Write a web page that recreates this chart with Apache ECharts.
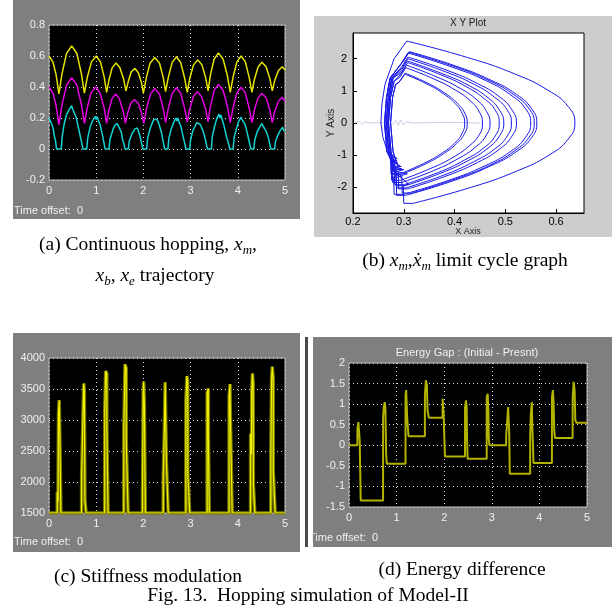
<!DOCTYPE html>
<html>
<head>
<meta charset="utf-8">
<script src="https://cdn.jsdelivr.net/npm/echarts@6.0.0/dist/echarts.min.js"></script>
<style>
  html, body { margin: 0; padding: 0; background: #fff; }
  #main { width: 616px; height: 615px; }
</style>
</head>
<body>
<div id="main"></div>
<script>
// (a) continuous hopping: [time (s), position]
var xmTrace = [
  [0,0.60],[0.085,0.56],[0.15,0.48],[0.21,0.355],
  [0.275,0.485],[0.37,0.615],[0.48,0.665],[0.59,0.616],[0.685,0.488],[0.75,0.36],
  [0.81,0.461],[0.90,0.562],[1.0,0.60],[1.09,0.562],[1.17,0.464],[1.22,0.365],
  [1.27,0.445],[1.34,0.525],[1.42,0.555],[1.50,0.526],[1.58,0.451],[1.63,0.375],
  [1.68,0.436],[1.74,0.497],[1.82,0.52],[1.89,0.494],[1.96,0.427],[2.00,0.36],
  [2.06,0.457],[2.14,0.553],[2.24,0.59],[2.34,0.555],[2.42,0.462],[2.47,0.37],
  [2.53,0.465],[2.61,0.559],[2.70,0.595],[2.79,0.558],[2.87,0.462],[2.93,0.365],
  [2.98,0.453],[3.06,0.541],[3.15,0.575],[3.24,0.543],[3.32,0.459],[3.37,0.375],
  [3.42,0.478],[3.50,0.581],[3.59,0.62],[3.69,0.579],[3.78,0.472],[3.84,0.365],
  [3.90,0.464],[3.98,0.562],[4.07,0.60],[4.16,0.562],[4.24,0.464],[4.30,0.365],
  [4.35,0.447],[4.43,0.529],[4.51,0.56],[4.60,0.530],[4.68,0.453],[4.73,0.375],
  [4.78,0.44],[4.86,0.505],[4.94,0.53],[5.0,0.51]
];
var xbTrace = [
  [0,0.40],[0.085,0.36],[0.15,0.28],[0.21,0.155],
  [0.275,0.283],[0.37,0.411],[0.48,0.46],[0.59,0.413],[0.685,0.289],[0.75,0.165],
  [0.81,0.264],[0.89,0.362],[0.99,0.40],[1.08,0.362],[1.17,0.264],[1.22,0.165],
  [1.265,0.245],[1.335,0.325],[1.41,0.355],[1.49,0.325],[1.57,0.245],[1.62,0.165],
  [1.665,0.23],[1.735,0.295],[1.81,0.32],[1.89,0.295],[1.96,0.23],[2.01,0.165],
  [2.065,0.26],[2.15,0.354],[2.24,0.39],[2.34,0.355],[2.42,0.262],[2.47,0.17],
  [2.53,0.265],[2.61,0.359],[2.70,0.395],[2.79,0.36],[2.87,0.267],[2.93,0.175],
  [2.98,0.257],[3.06,0.339],[3.14,0.37],[3.23,0.339],[3.32,0.257],[3.37,0.175],
  [3.42,0.277],[3.50,0.378],[3.59,0.417],[3.69,0.377],[3.78,0.274],[3.84,0.17],
  [3.90,0.266],[3.98,0.362],[4.07,0.398],[4.16,0.362],[4.24,0.266],[4.30,0.17],
  [4.35,0.25],[4.43,0.33],[4.51,0.36],[4.60,0.33],[4.68,0.25],[4.73,0.17],
  [4.78,0.239],[4.86,0.308],[4.94,0.334],[5.0,0.305]
];
var xeTrace = [
  [0,0.2],[0.03,0.19],[0.06,0.16],[0.09,0.13],[0.11,0.09],[0.14,0.05],[0.16,0],
  [0.26,0],[0.28,0.08],[0.30,0.09],[0.32,0.16],[0.34,0.17],[0.36,0.21],[0.38,0.22],[0.40,0.24],[0.42,0.23],
  [0.44,0.26],[0.46,0.25],[0.48,0.28],[0.50,0.26],[0.52,0.27],[0.54,0.23],[0.57,0.21],[0.60,0.17],
  [0.62,0.16],[0.65,0.10],[0.67,0.09],[0.70,0.03],[0.72,0],
  [0.80,0],[0.82,0.07],[0.84,0.08],[0.87,0.14],[0.89,0.15],[0.92,0.18],[0.95,0.19],[0.98,0.21],[1.00,0.19],
  [1.02,0.21],[1.05,0.18],[1.08,0.16],[1.11,0.12],[1.14,0.08],[1.17,0.03],[1.19,0],
  [1.27,0],[1.29,0.06],[1.31,0.07],[1.34,0.11],[1.36,0.13],[1.39,0.15],[1.42,0.14],[1.44,0.165],[1.47,0.15],
  [1.50,0.13],[1.53,0.11],[1.56,0.06],[1.59,0.03],[1.61,0],
  [1.68,0],[1.70,0.05],[1.73,0.06],[1.76,0.10],[1.79,0.11],[1.82,0.13],[1.85,0.12],[1.87,0.135],[1.90,0.11],
  [1.93,0.08],[1.96,0.04],[1.99,0],
  [2.07,0],[2.09,0.07],[2.11,0.08],[2.14,0.13],[2.16,0.14],[2.19,0.17],[2.22,0.19],[2.24,0.18],[2.26,0.20],
  [2.29,0.19],[2.32,0.17],[2.35,0.14],[2.38,0.11],[2.41,0.06],[2.43,0.03],[2.45,0],
  [2.52,0],[2.54,0.07],[2.56,0.08],[2.59,0.13],[2.61,0.14],[2.64,0.17],[2.67,0.18],[2.69,0.20],[2.71,0.18],
  [2.73,0.20],[2.76,0.17],[2.79,0.15],[2.82,0.11],[2.85,0.07],[2.88,0.03],[2.90,0],
  [2.98,0],[3.00,0.06],[3.02,0.07],[3.05,0.12],[3.07,0.13],[3.10,0.15],[3.13,0.17],[3.15,0.16],[3.17,0.18],
  [3.20,0.16],[3.23,0.14],[3.26,0.12],[3.29,0.09],[3.32,0.05],[3.34,0.02],[3.36,0],
  [3.44,0],[3.46,0.08],[3.48,0.09],[3.51,0.15],[3.53,0.16],[3.56,0.20],[3.58,0.21],[3.60,0.225],[3.62,0.20],
  [3.64,0.22],[3.67,0.19],[3.70,0.16],[3.73,0.12],[3.76,0.08],[3.80,0.04],[3.83,0],
  [3.90,0],[3.92,0.07],[3.94,0.08],[3.97,0.13],[3.99,0.14],[4.02,0.18],[4.05,0.19],[4.07,0.205],[4.09,0.19],
  [4.12,0.19],[4.15,0.16],[4.18,0.13],[4.21,0.09],[4.24,0.05],[4.26,0.02],[4.28,0],
  [4.34,0],[4.36,0.06],[4.38,0.07],[4.41,0.11],[4.43,0.12],[4.46,0.14],[4.49,0.15],[4.51,0.165],[4.53,0.15],
  [4.56,0.15],[4.59,0.12],[4.62,0.10],[4.65,0.07],[4.68,0.03],[4.70,0],
  [4.78,0],[4.80,0.05],[4.82,0.06],[4.85,0.09],[4.87,0.10],[4.90,0.12],[4.93,0.13],[4.95,0.14],[4.97,0.12],[5.0,0.115]
];
var timeTicks = [0, 1, 2, 3, 4, 5];
var posTicks = [-0.2, 0, 0.2, 0.4, 0.6, 0.8];

// (b) limit cycle: [x_m, dx_m]; one flight arc per hop, stance segments join them
var cycleFlights = [
  [[.306,2.55],[.425,2.04],[.518,1.53],[.584,1.02],[.624,0.51],[.637,0],[.624,-0.50],[.586,-1.00],[.522,-1.50],[.433,-2.00],[.318,-2.50]],
  [[.308,2.05],[.385,1.64],[.445,1.23],[.488,0.82],[.513,0.41],[.522,0],[.513,-0.41],[.488,-0.82],[.445,-1.23],[.385,-1.64],[.308,-2.05]],
  [[.305,1.80],[.364,1.44],[.411,1.08],[.444,0.72],[.463,0.36],[.470,0],[.463,-0.37],[.442,-0.74],[.407,-1.11],[.359,-1.48],[.296,-1.85]],
  [[.311,2.22],[.401,1.78],[.472,1.33],[.522,0.89],[.552,0.44],[.562,0],[.552,-0.45],[.521,-0.90],[.469,-1.35],[.397,-1.80],[.304,-2.25]],
  [[.308,2.00],[.381,1.60],[.439,1.20],[.479,0.80],[.504,0.40],[.512,0],[.504,-0.40],[.479,-0.81],[.437,-1.21],[.379,-1.62],[.304,-2.02]],
  [[.304,1.72],[.358,1.38],[.401,1.03],[.431,0.69],[.449,0.34],[.455,0],[.449,-0.36],[.429,-0.71],[.397,-1.07],[.352,-1.42],[.294,-1.78]],
  [[.310,2.20],[.399,1.76],[.468,1.32],[.517,0.88],[.547,0.44],[.557,0],[.547,-0.44],[.518,-0.87],[.470,-1.31],[.402,-1.74],[.315,-2.18]],
  [[.307,1.93],[.375,1.54],[.429,1.16],[.467,0.77],[.489,0.39],[.497,0],[.489,-0.39],[.466,-0.78],[.427,-1.17],[.373,-1.56],[.303,-1.95]],
  [[.303,1.55],[.347,1.24],[.381,0.93],[.405,0.62],[.420,0.31],[.425,0],[.420,-0.32],[.404,-0.64],[.378,-0.96],[.342,-1.28],[.295,-1.60]],
  [[.308,2.18],[.395,1.74],[.463,1.31],[.511,0.87],[.540,0.44],[.550,0],[.540,-0.44],[.510,-0.89],[.460,-1.33],[.389,-1.78],[.299,-2.22]],
  [[.308,1.88],[.373,1.50],[.423,1.13],[.459,0.75],[.481,0.38],[.488,0],[.481,-0.38],[.458,-0.77],[.420,-1.15],[.368,-1.54],[.300,-1.92]],
  [[.302,1.52],[.345,1.22],[.378,0.91],[.401,0.61],[.415,0.30],[.420,0],[.415,-0.32],[.400,-0.63],[.374,-0.95],[.339,-1.26],[.293,-1.58]]
];
var cycleStance = [
  [[.318,-2.50],[.300,-2.50],[.299,-1.95],[.310,-1.90],[.279,-1.50],[.270,-0.90],[.265,0],[.269,0.80],[.276,1.40],[.296,1.75],[.308,2.05]],
  [[.308,-2.05],[.290,-2.05],[.289,-1.50],[.300,-1.45],[.284,-1.45],[.275,-0.90],[.270,0],[.274,0.80],[.281,1.30],[.293,1.50],[.305,1.80]],
  [[.296,-1.85],[.278,-1.85],[.277,-1.30],[.288,-1.25],[.276,-1.20],[.267,-0.90],[.262,0],[.266,0.80],[.273,1.40],[.299,1.92],[.311,2.22]],
  [[.304,-2.25],[.286,-2.25],[.285,-1.70],[.296,-1.65],[.280,-1.50],[.271,-0.90],[.266,0],[.270,0.80],[.277,1.40],[.296,1.70],[.308,2.00]],
  [[.304,-2.02],[.286,-2.02],[.285,-1.47],[.296,-1.42],[.284,-1.40],[.275,-0.90],[.270,0],[.274,0.80],[.281,1.30],[.292,1.42],[.304,1.72]],
  [[.294,-1.78],[.276,-1.78],[.275,-1.23],[.286,-1.18],[.276,-1.15],[.267,-0.90],[.262,0],[.266,0.80],[.273,1.40],[.298,1.90],[.310,2.20]],
  [[.315,-2.18],[.297,-2.18],[.296,-1.63],[.307,-1.58],[.282,-1.50],[.273,-0.90],[.268,0],[.272,0.80],[.279,1.40],[.295,1.63],[.307,1.93]],
  [[.303,-1.95],[.285,-1.95],[.284,-1.40],[.295,-1.35],[.288,-1.35],[.279,-0.90],[.274,0],[.278,0.80],[.284,1.20],[.291,1.28],[.303,1.55]],
  [[.295,-1.60],[.277,-1.60],[.276,-1.15],[.287,-1.10],[.277,-1.05],[.268,-0.80],[.263,0],[.267,0.80],[.274,1.40],[.296,1.88],[.308,2.18]],
  [[.299,-2.22],[.281,-2.22],[.280,-1.67],[.291,-1.62],[.282,-1.50],[.273,-0.90],[.268,0],[.272,0.80],[.279,1.40],[.296,1.58],[.308,1.88]],
  [[.300,-1.92],[.282,-1.92],[.281,-1.37],[.292,-1.32],[.288,-1.30],[.279,-0.90],[.274,0],[.278,0.80],[.284,1.20],[.290,1.25],[.302,1.52]],
  [[.293,-1.58],[.275,-1.58],[.274,-1.10],[.282,-1.05],[.268,-0.90],[.259,-0.45],[.255,0],[.257,0.60],[.263,1.20],[.281,2.00],[.306,2.55]]
];
var cycleStart = [[.205,0],[.212,.06],[.218,-.05],[.224,.04],[.232,0],[.26,0.01],[.278,-.04],[.284,.09],[.289,-.08],
  [.294,.1],[.299,-.06],[.305,.04],[.32,0],[.38,.02],[.45,0]];
var cycleXTicks = [0.2, 0.3, 0.4, 0.5, 0.6];
var cycleYTicks = [-2, -1, 0, 1, 2];

// (c) stiffness: [time (s), k]
var stiffTrace = [
  [0,1500],[0.175,1500],[0.176,1840],[0.19,1840],[0.191,1680],[0.20,1680],[0.201,3090],[0.215,3090],[0.216,3320],[0.228,3320],[0.229,2790],[0.25,2790],[0.251,1500],
  [0.69,1500],[0.691,2070],[0.72,2070],[0.721,3120],[0.735,3120],[0.736,3590],[0.748,3480],[0.76,3480],[0.761,1710],[0.785,1710],[0.786,1500],
  [1.18,1500],[1.181,3160],[1.20,3160],[1.201,3790],[1.225,3750],[1.226,2840],[1.25,2840],[1.251,1500],
  [1.585,1500],[1.586,2880],[1.61,2880],[1.611,3900],[1.635,3840],[1.636,2680],[1.675,2680],[1.676,1500],
  [1.98,1500],[1.981,1800],[1.995,1800],[1.996,3440],[2.005,3620],[2.02,3270],[2.04,3270],[2.041,1500],
  [2.42,1500],[2.421,2070],[2.445,2070],[2.446,2940],[2.46,2940],[2.461,3610],[2.485,3590],[2.486,2350],[2.525,2350],[2.526,1500],
  [2.90,1500],[2.901,3320],[2.92,3320],[2.921,3710],[2.94,3620],[2.941,2130],[2.98,2130],[2.981,1500],
  [3.35,1500],[3.351,3430],[3.375,3510],[3.376,2800],[3.395,2800],[3.396,1500],
  [3.815,1500],[3.816,3390],[3.835,3580],[3.84,3200],[3.88,3200],[3.881,1500],
  [4.27,1500],[4.271,2780],[4.29,2450],[4.295,3460],[4.31,3750],[4.325,3610],[4.33,1960],[4.36,1960],[4.361,1500],
  [4.70,1500],[4.701,2470],[4.715,2470],[4.716,3660],[4.73,3860],[4.75,3680],[4.751,2190],[4.79,2190],[4.791,1500],
  [5,1500]
];
var stiffTicks = [1500, 2000, 2500, 3000, 3500, 4000];

// (d) energy gap: [time (s), initial - present]
var energyTrace = [
  [0,0],[0.176,0],[0.177,0.40],[0.197,0.565],[0.211,0.60],[0.225,0.12],[0.245,0.12],[0.246,-1.34],
  [0.716,-1.34],[0.717,0.69],[0.730,0.93],[0.751,1.05],[0.765,0.89],[0.780,-0.2],[0.794,-0.45],
  [1.187,-0.45],[1.188,1.21],[1.201,1.34],[1.222,0.67],[1.250,0.22],
  [1.594,0.22],[1.595,1.21],[1.615,1.58],[1.636,1.46],[1.650,0.85],[1.678,0.67],
  [1.966,0.67],[1.967,1.13],[1.987,0.77],[2.016,-0.27],
  [2.437,-0.27],[2.438,0.93],[2.458,1.09],[2.472,0.93],[2.479,0.2],[2.493,-0.33],
  [2.893,-0.33],[2.894,1.17],[2.914,1.25],[2.928,0.85],[2.935,0.2],[2.949,0],
  [3.301,0],[3.302,0.22],[3.329,0.25],[3.343,0.93],[3.364,0.36],[3.378,-0.69],
  [3.806,-0.69],[3.807,0.22],[3.820,0.77],[3.841,1.05],[3.855,0.32],[3.876,-0.43],
  [4.263,-0.43],[4.264,1.17],[4.284,1.34],[4.298,1.05],[4.312,0.36],[4.326,0.18],
  [4.698,0.18],[4.699,1.13],[4.719,1.54],[4.740,1.34],[4.754,0.61],[4.775,0.55],[5,0.55]
];
var energyTicks = [-1.5, -1, -0.5, 0, 0.5, 1, 1.5, 2];

var myChart = echarts.init(document.getElementById('main'));

var tickFont = 'Liberation Sans';
var serif = '"Liberation Serif", "Times New Roman", serif';

// black scope-style axes
function scopeX(gi) {
  return {
    gridIndex: gi, type: 'value',
    min: timeTicks[0], max: timeTicks[timeTicks.length - 1], interval: 1,
    axisLine: { show: false, onZero: false },
    axisTick: { show: false },
    axisLabel: { color: '#f0f0f0', fontSize: 11, fontFamily: tickFont, margin: 5 },
    splitLine: { show: true, lineStyle: { color: '#d8d8d8', type: [1, 3], width: 1 } }
  };
}
function scopeY(gi, ticks) {
  return {
    gridIndex: gi, type: 'value',
    min: ticks[0], max: ticks[ticks.length - 1], interval: ticks[1] - ticks[0],
    axisLine: { show: false, onZero: false },
    axisTick: { show: false },
    axisLabel: { color: '#f0f0f0', fontSize: 11, fontFamily: tickFont, margin: 4,
                 formatter: function (v) { return String(v); } },
    splitLine: { show: true, lineStyle: { color: '#d8d8d8', type: [1, 3], width: 1 } }
  };
}

function lineSeries(xi, data, color, width, extra) {
  var s = {
    type: 'line', xAxisIndex: xi, yAxisIndex: xi, data: data,
    showSymbol: false, symbol: 'none', silent: true,
    lineStyle: { color: color, width: width }
  };
  for (var k in extra) s[k] = extra[k];
  return s;
}

var rich = {
  i: { fontStyle: 'italic', fontSize: 19.5, fontFamily: serif, lineHeight: 24 },
  s: { fontStyle: 'italic', fontSize: 13, fontFamily: serif, verticalAlign: 'bottom', lineHeight: 15 }
};
function caption(x, y, text) {
  return {
    type: 'text', x: x, y: y, z: 5,
    style: { text: text, rich: rich, font: '19.5px ' + serif, fill: '#000',
             lineHeight: 24, textAlign: 'center', textVerticalAlign: 'middle' }
  };
}
function smallText(x, y, text, color, size, align, rot) {
  return {
    type: 'text', x: x, y: y, z: 5, rotation: rot || 0,
    style: { text: text, font: size + 'px "Liberation Sans"', fill: color,
             textAlign: align, textVerticalAlign: 'middle' }
  };
}

var series = [
  lineSeries(0, xmTrace, '#e4e400', 1.5),
  lineSeries(0, xbTrace, '#e200e2', 1.5),
  lineSeries(0, xeTrace, '#12d2d2', 1.5),
  lineSeries(1, cycleStart, '#c9cdea', 1)
];
cycleFlights.forEach(function (arc) {
  series.push(lineSeries(1, arc, '#1818e8', 1, { smooth: 0.5 }));
});
cycleStance.forEach(function (seg) {
  series.push(lineSeries(1, seg, '#1818e8', 1));
});
series.push(lineSeries(2, stiffTrace, '#7a7a00', 3.5));
series.push(lineSeries(2, stiffTrace, '#f2f200', 1.2));
series.push(lineSeries(3, energyTrace, '#b2b200', 2));

var option = {
  animation: false,
  grid: [
    { left: 49, top: 25, width: 236, height: 155, show: true, backgroundColor: '#000', borderColor: '#bdbdbd', borderWidth: 1 },
    { left: 353, top: 33, width: 231, height: 180, show: true, backgroundColor: '#fff', borderColor: '#000', borderWidth: 1 },
    { left: 49, top: 358, width: 236, height: 155, show: true, backgroundColor: '#000', borderColor: '#bdbdbd', borderWidth: 1 },
    { left: 349, top: 363, width: 238, height: 144, show: true, backgroundColor: '#000', borderColor: '#bdbdbd', borderWidth: 1 }
  ],
  xAxis: [
    scopeX(0),
    {
      gridIndex: 1, type: 'value', min: 0.2, max: 0.655,
      axisLine: { show: true, onZero: false, lineStyle: { color: '#000' } },
      axisTick: { show: true, inside: true, length: 4, customValues: cycleXTicks, lineStyle: { color: '#000' } },
      axisLabel: { color: '#000', fontSize: 11, fontFamily: tickFont, margin: 3, customValues: cycleXTicks },
      splitLine: { show: false }
    },
    scopeX(2),
    scopeX(3)
  ],
  yAxis: [
    scopeY(0, posTicks),
    {
      gridIndex: 1, type: 'value', min: -2.8, max: 2.8,
      axisLine: { show: true, onZero: false, lineStyle: { color: '#000' } },
      axisTick: { show: true, inside: true, length: 4, customValues: cycleYTicks, lineStyle: { color: '#000' } },
      axisLabel: { color: '#000', fontSize: 11, fontFamily: tickFont, margin: 6, customValues: cycleYTicks },
      splitLine: { show: false }
    },
    scopeY(2, stiffTicks),
    scopeY(3, energyTicks)
  ],
  graphic: [
    { type: 'rect', z: -10, shape: { x: 13, y: 0, width: 287, height: 219 }, style: { fill: '#7f7f7f' } },
    { type: 'rect', z: -10, shape: { x: 314, y: 16, width: 298, height: 221 }, style: { fill: '#cdcdcd' } },
    { type: 'rect', z: -10, shape: { x: 13, y: 333, width: 287, height: 219 }, style: { fill: '#7f7f7f' } },
    { type: 'rect', z: -10, shape: { x: 313, y: 337, width: 299, height: 210 }, style: { fill: '#7f7f7f' } },
    { type: 'rect', z: -10, shape: { x: 305, y: 337, width: 3, height: 210 }, style: { fill: '#4a4a4a' } },
    smallText(14, 211, 'Time offset:  0', '#f0f0f0', 11, 'left'),
    smallText(14, 542, 'Time offset:  0', '#f0f0f0', 11, 'left'),
    smallText(309, 538, 'Time offset:  0', '#f0f0f0', 11, 'left'),
    smallText(468, 23, 'X Y Plot', '#222', 10, 'center'),
    smallText(331, 123, 'Y Axis', '#222', 10, 'center', Math.PI / 2),
    smallText(468, 232, 'X Axis', '#222', 9, 'center'),
    smallText(467, 353, 'Energy Gap : (Initial - Presnt)', '#f0f0f0', 11, 'center'),
    caption(148, 245, '(a) Continuous hopping, {i|x}{s|m},'),
    caption(155, 276, '{i|x}{s|b}, {i|x}{s|e} trajectory'),
    caption(465, 261, '(b) {i|x}{s|m},{i|ẋ}{s|m} limit cycle graph'),
    caption(148, 577, '(c) Stiffness modulation'),
    caption(462, 570, '(d) Energy difference'),
    caption(308, 596, 'Fig. 13.  Hopping simulation of Model-II')
  ],
  series: series
};

myChart.setOption(option);
window.onresize = function () {
  myChart.resize();
};
</script>
</body>
</html>
